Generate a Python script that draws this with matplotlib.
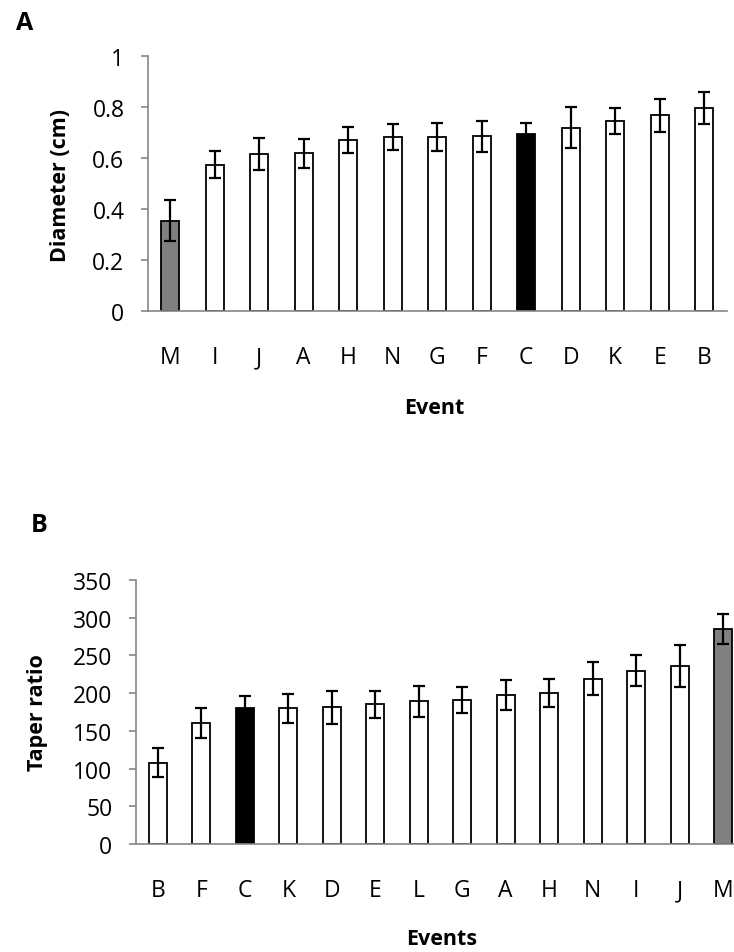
import matplotlib
matplotlib.use("Agg")
import matplotlib.pyplot as plt

plt.rcParams['font.family'] = ['Open Sans', 'DejaVu Sans']

# Panel A: diameter
cats_a = ["M", "I", "J", "A", "H", "N", "G", "F", "C", "D", "K", "E", "B"]
vals_a = [0.354, 0.574, 0.614, 0.618, 0.671, 0.681, 0.682, 0.685, 0.693, 0.719, 0.745, 0.767, 0.796]
errs_a = [0.080, 0.052, 0.063, 0.056, 0.050, 0.051, 0.056, 0.062, 0.046, 0.081, 0.050, 0.064, 0.063]
cols_a = ["#808080"] + ["white"] * 7 + ["black"] + ["white"] * 4
yticks_a = [0, 0.2, 0.4, 0.6, 0.8, 1]
yticklabels_a = ["0", "0.2", "0.4", "0.6", "0.8", "1"]

# Panel B: taper ratio
cats_b = ["B", "F", "C", "K", "D", "E", "L", "G", "A", "H", "N", "I", "J", "M"]
vals_b = [108, 160, 180, 180, 181, 185, 189, 191, 198, 200, 219, 230, 236, 285]
errs_b = [19, 20, 16, 19, 22, 18, 21, 17, 20, 19, 22, 21, 28, 20]
cols_b = ["white", "white", "black"] + ["white"] * 10 + ["#808080"]
yticks_b = [0, 50, 100, 150, 200, 250, 300, 350]

W, H = 734, 953
fig = plt.figure(figsize=(W / 100, H / 100), dpi=100)

axis_grey = "#868686"
tick_fs = 16.5
lab_fs = 15.5


def style(ax):
    for s in ["top", "right"]:
        ax.spines[s].set_visible(False)
    for s in ["left", "bottom"]:
        ax.spines[s].set_color(axis_grey)
        ax.spines[s].set_linewidth(1.2)
    ax.tick_params(axis="y", direction="out", length=5, color=axis_grey, width=1.2,
                   labelsize=tick_fs, pad=12)
    ax.tick_params(axis="x", length=0, labelsize=tick_fs, pad=24.5)


def px(x, y):
    return x / W, 1 - y / H


# Panel A axes
axA = fig.add_axes([148 / W, 1 - 312 / H, 13 * 44.5 / W, (312 - 57) / H])
xa = range(len(cats_a))
axA.bar(xa, vals_a, width=0.41, color=cols_a, edgecolor="black", linewidth=1.3, zorder=2)
axA.errorbar(xa, vals_a, yerr=errs_a, fmt="none", ecolor="black", elinewidth=1.6,
             capsize=4.6, capthick=1.6, zorder=3)
axA.set_xlim(-0.5, len(cats_a) - 0.5)
axA.set_ylim(0, 1)
axA.set_yticks(yticks_a)
axA.set_yticklabels(yticklabels_a)
axA.set_xticks(list(xa))
axA.set_xticklabels(cats_a)
style(axA)
fig.text(*px(60, 185), "Diameter (cm)", fontsize=lab_fs, fontweight="bold",
         rotation=90, ha="center", va="center")
fig.text(*px(434, 408), "Event", fontsize=lab_fs, fontweight="bold", ha="center", va="center")
fig.text(*px(16, 30), "A", fontsize=18, fontweight="bold", ha="left", va="baseline")

# Panel B axes
axB = fig.add_axes([136 / W, 1 - 845 / H, 14 * 43.5 / W, (845 - 581) / H])
xb = range(len(cats_b))
axB.bar(xb, vals_b, width=0.41, color=cols_b, edgecolor="black", linewidth=1.3, zorder=2)
axB.errorbar(xb, vals_b, yerr=errs_b, fmt="none", ecolor="black", elinewidth=1.6,
             capsize=4.6, capthick=1.6, zorder=3)
axB.set_xlim(-0.5, len(cats_b) - 0.5)
axB.set_ylim(0, 350)
axB.set_yticks(yticks_b)
axB.set_xticks(list(xb))
axB.set_xticklabels(cats_b)
style(axB)
fig.text(*px(37, 713), "Taper ratio", fontsize=lab_fs, fontweight="bold",
         rotation=90, ha="center", va="center")
fig.text(*px(442, 940), "Events", fontsize=lab_fs, fontweight="bold", ha="center", va="center")
fig.text(*px(31, 532), "B", fontsize=18, fontweight="bold", ha="left", va="baseline")

fig.savefig("out.png", dpi=100)
